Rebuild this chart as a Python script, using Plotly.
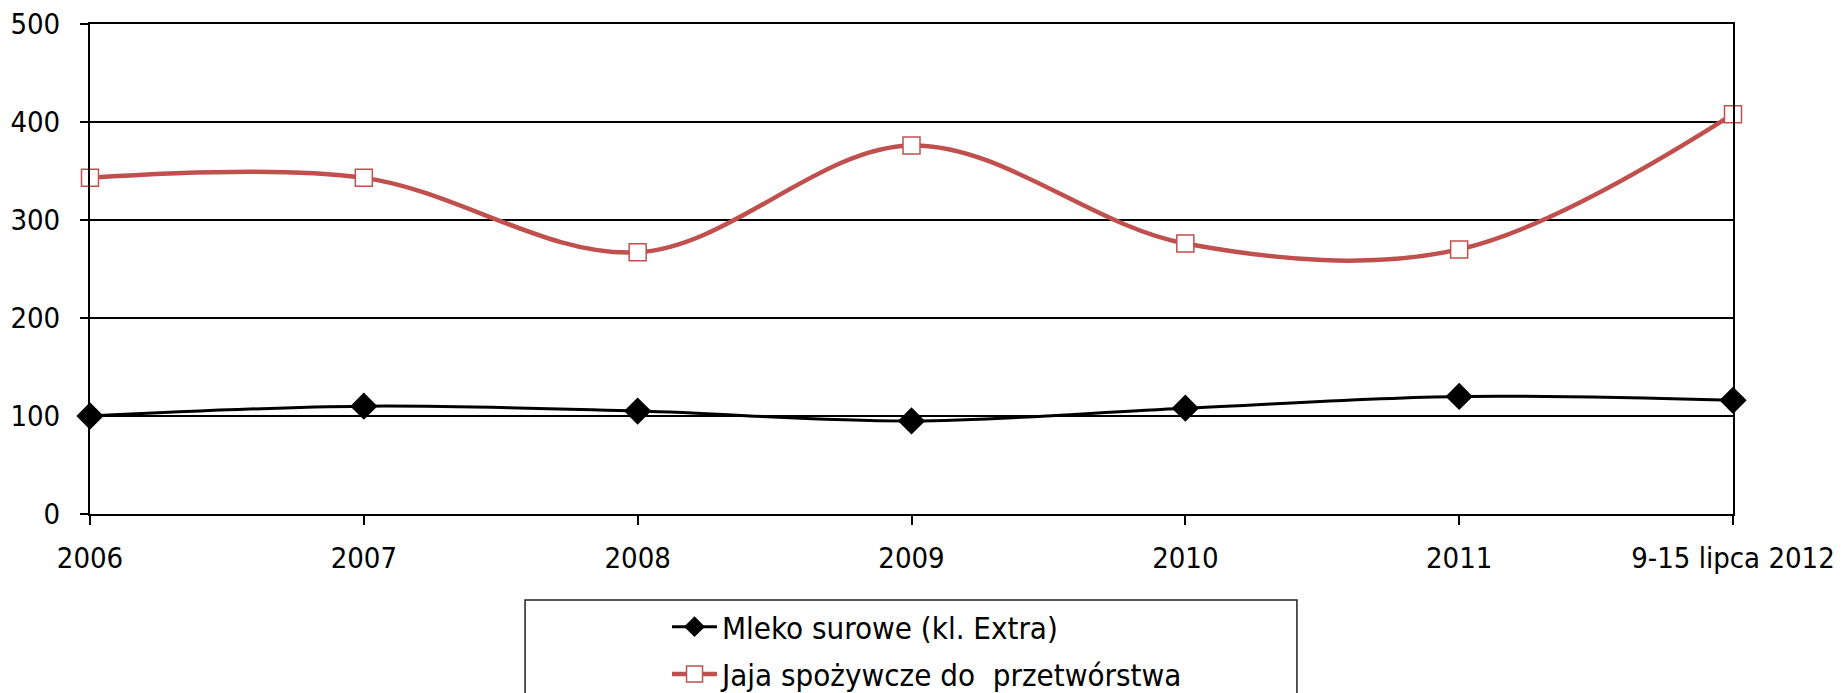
import plotly.graph_objects as go

categories = ["2006", "2007", "2008", "2009", "2010", "2011", "9-15 lipca 2012"]
mleko = [100, 110, 105, 95, 108, 120, 116]
jaja = [343, 343, 267, 376, 276, 270, 408]
series_names = ["Mleko surowe (kl. Extra)", "Jaja spożywcze do  przetwórstwa"]
y_ticks = [0, 100, 200, 300, 400, 500]

FONT = "DejaVu Sans Condensed, DejaVu Sans, sans-serif"

fig = go.Figure()
fig.add_trace(go.Scatter(
    x=categories, y=mleko, name=series_names[0], mode="lines+markers", legendgroup="a",
    line=dict(color="black", width=3, shape="spline", smoothing=1),
    marker=dict(symbol="diamond", size=21, color="black", line=dict(width=0)),
    cliponaxis=False,
))
fig.add_trace(go.Scatter(
    x=categories, y=jaja, name=series_names[1], mode="lines+markers", legendgroup="b",
    line=dict(color="#C0504D", width=4.5, shape="spline", smoothing=1),
    marker=dict(symbol="square", size=17, color="white", line=dict(color="#C0504D", width=1.5)),
    cliponaxis=False,
))

fig.update_layout(
    width=1833, height=685,
    margin=dict(l=82, r=108, t=16, b=179, pad=0, autoexpand=False),
    paper_bgcolor="white", plot_bgcolor="white",
    font=dict(family=FONT, size=29, color="black"),
    showlegend=True,
    legend=dict(
        x=0.3512, y=-0.1755, xanchor="left", yanchor="top",
        font=dict(family=FONT, size=31, color="black"),
        bgcolor="rgba(0,0,0,0)", borderwidth=0, traceorder="grouped",
        tracegroupgap=4, itemwidth=45,
    ),
    xaxis=dict(
        type="category", range=[0, 6], showgrid=False, zeroline=False,
        showline=True, linecolor="black", linewidth=2, mirror=True,
        ticks="outside", ticklen=9, tickwidth=1.5, tickcolor="black",
        tickfont=dict(family=FONT, size=29, color="black"),
        ticklabelstandoff=8,
    ),
    yaxis=dict(
        range=[0, 500], tickvals=y_ticks, showgrid=True, gridcolor="black", gridwidth=2,
        zeroline=False, showline=True, linecolor="black", linewidth=2, mirror=True,
        ticks="outside", ticklen=8, tickwidth=2, tickcolor="black",
        tickfont=dict(family=FONT, size=29, color="black"),
        ticklabelstandoff=14, ticklabeloverflow="allow",
    ),
    shapes=[dict(
        type="rect", xref="paper", yref="paper",
        x0=0.2648, x1=0.7346, y0=-0.1755, y1=-0.45,
        line=dict(color="#202020", width=1.5), fillcolor="rgba(0,0,0,0)", layer="below",
    )],
)

fig.write_html("out.html")
